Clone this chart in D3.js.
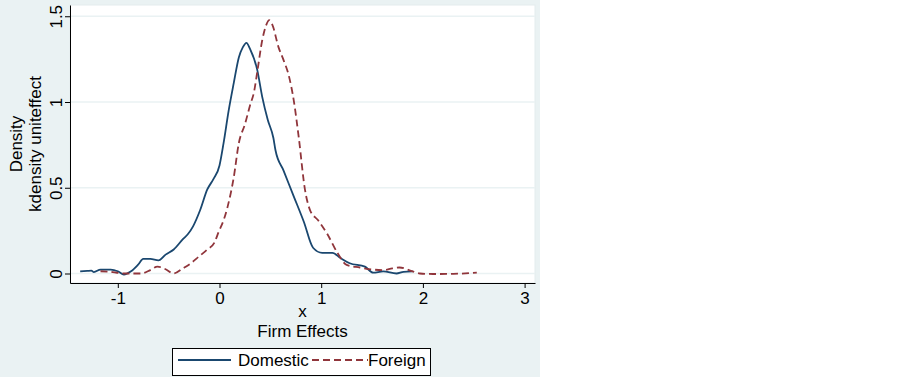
<!DOCTYPE html>
<html>
<head>
<meta charset="utf-8">
<title>kdensity uniteffect</title>
<style>
    body { margin: 0; background: #fff; }
    svg text { font-family: "Liberation Sans", Arial, sans-serif; fill: #000; }
</style>
<script src="https://d3js.org/d3.v7.min.js"></script>
</head>
<body>
<div id="chart"></div>
<script>
    // data
    const domX = [-1.37, -1.3, -1.26, -1.235, -1.17, -1.07, -1.0, -0.94, -0.87, -0.80, -0.75, -0.68, -0.60, -0.53, -0.45, -0.36, -0.31, -0.26, -0.19, -0.12, -0.06, 0.0, 0.04, 0.09, 0.14, 0.19, 0.23, 0.265, 0.30, 0.37, 0.42, 0.475, 0.53, 0.55, 0.63, 0.73, 0.83, 0.92, 1.01, 1.11, 1.19, 1.28, 1.43, 1.51, 1.61, 1.74, 1.81, 1.90]
    const domY = [0.012, 0.015, 0.017, 0.008, 0.023, 0.023, 0.013, -0.006, 0.013, 0.052, 0.085, 0.085, 0.076, 0.11, 0.14, 0.20, 0.23, 0.275, 0.37, 0.49, 0.55, 0.63, 0.76, 0.95, 1.11, 1.26, 1.32, 1.345, 1.31, 1.19, 1.03, 0.895, 0.79, 0.72, 0.60, 0.45, 0.30, 0.15, 0.12, 0.12, 0.09, 0.06, 0.04, 0.005, 0.012, 0.0, 0.01, 0.012]

    const forX = [-1.17, -1.05, -0.94, -0.77, -0.68, -0.61, -0.53, -0.45, -0.36, -0.28, -0.2, -0.12, -0.05, -0.01, 0.04, 0.08, 0.14, 0.19, 0.25, 0.30, 0.34, 0.375, 0.42, 0.46, 0.49, 0.52, 0.58, 0.63, 0.68, 0.73, 0.78, 0.84, 0.89, 0.97, 1.06, 1.16, 1.25, 1.38, 1.51, 1.61, 1.70, 1.77, 1.90, 1.97, 2.1, 2.3, 2.53]
    const forY = [0.013, 0.008, 0.0, 0.0, 0.02, 0.04, 0.025, 0.0, 0.03, 0.06, 0.1, 0.14, 0.18, 0.24, 0.31, 0.39, 0.56, 0.76, 0.87, 0.98, 1.06, 1.19, 1.36, 1.45, 1.477, 1.45, 1.32, 1.244, 1.157, 1.01, 0.79, 0.49, 0.37, 0.31, 0.23, 0.12, 0.05, 0.035, 0.023, 0.02, 0.03, 0.035, 0.012, 0.0, -0.003, -0.002, 0.005]

    const xTicks = [-1, 0, 1, 2, 3]
    const yTicks = [0, 0.5, 1, 1.5]
    const seriesNames = ["Domestic", "Foreign"]

    const W = 902, H = 378
    const plot = { left: 70, right: 535, top: 5, bottom: 283 }

    const svg = d3.select("#chart")
        .append("svg")
        .attr("width", W)
        .attr("height", H)

    // graph region + plot region
    svg.append("rect")
        .attr("x", 0).attr("y", 0)
        .attr("width", 540).attr("height", 377)
        .attr("fill", "#eaf2f3")
    svg.append("rect")
        .attr("x", plot.left).attr("y", plot.top)
        .attr("width", plot.right - plot.left).attr("height", plot.bottom - plot.top)
        .attr("fill", "#fff")
        .attr("stroke", "#e3ecee")
        .attr("stroke-width", 1)

    const x = d3.scaleLinear()
        .domain([(plot.left - 219.5) / 101.7, (plot.right - 219.5) / 101.7])
        .range([plot.left, plot.right])
    const y = d3.scaleLinear()
        .domain([(273.5 - plot.bottom) / 171.5, (273.5 - plot.top) / 171.5])
        .range([plot.bottom, plot.top])

    const fmt = d => String(d)

    // gridlines
    svg.append("g")
        .selectAll("line")
        .data(yTicks)
        .join("line")
        .attr("x1", plot.left).attr("x2", plot.right)
        .attr("y1", d => y(d)).attr("y2", d => y(d))
        .attr("stroke", "#eaf2f3")
        .attr("stroke-width", 1.5)

    // x axis
    const gx = svg.append("g")
        .attr("transform", `translate(0, ${plot.bottom})`)
        .call(d3.axisBottom(x).tickValues(xTicks).tickFormat(fmt).tickSize(5).tickSizeOuter(0).tickPadding(4))
    gx.select(".domain").attr("stroke", "#000")
    gx.selectAll(".tick line").attr("stroke", "#000")
    gx.selectAll(".tick text")
        .attr("font-size", 17)
        .attr("font-family", "Liberation Sans, Arial, sans-serif")
        .attr("fill", "#000")

    // y axis, labels rotated like Stata
    const gy = svg.append("g")
        .attr("transform", `translate(${plot.left}, 0)`)
        .call(d3.axisLeft(y).tickValues(yTicks).tickFormat(fmt).tickSize(5).tickSizeOuter(0))
    gy.select(".domain").attr("stroke", "#000")
    gy.selectAll(".tick line").attr("stroke", "#000")
    gy.selectAll(".tick text")
        .attr("font-size", 17)
        .attr("font-family", "Liberation Sans, Arial, sans-serif")
        .attr("fill", "#000")
        .attr("x", null).attr("dy", null)
        .attr("text-anchor", "middle")
        .attr("transform", "translate(-8.5, 0) rotate(-90)")

    // axis titles
    svg.append("text")
        .attr("x", (plot.left + plot.right) / 2)
        .attr("y", 317)
        .attr("text-anchor", "middle")
        .attr("font-size", 17)
        .text("x")
    svg.append("text")
        .attr("x", (plot.left + plot.right) / 2)
        .attr("y", 337)
        .attr("text-anchor", "middle")
        .attr("font-size", 17)
        .text("Firm Effects")

    const midY = (plot.top + plot.bottom) / 2
    svg.append("text")
        .attr("transform", `translate(21.5, ${midY}) rotate(-90)`)
        .attr("text-anchor", "middle")
        .attr("font-size", 17)
        .text("Density")
    svg.append("text")
        .attr("transform", `translate(40.5, ${midY}) rotate(-90)`)
        .attr("text-anchor", "middle")
        .attr("font-size", 17)
        .text("kdensity uniteffect")

    // lines
    const line = d3.line()
        .x(d => x(d[0]))
        .y(d => y(d[1]))
        .curve(d3.curveMonotoneX)

    svg.append("path")
        .datum(domX.map((v, i) => [v, domY[i]]))
        .attr("fill", "none")
        .attr("stroke", "#1a476f")
        .attr("stroke-width", 1.8)
        .attr("stroke-linejoin", "round")
        .attr("d", line)

    svg.append("path")
        .datum(forX.map((v, i) => [v, forY[i]]))
        .attr("fill", "none")
        .attr("stroke", "#90353b")
        .attr("stroke-width", 1.8)
        .attr("stroke-dasharray", "7,4")
        .attr("d", line)

    // legend
    const legend = svg.append("g")
    legend.append("rect")
        .attr("x", 172.5).attr("y", 348.5)
        .attr("width", 258).attr("height", 27)
        .attr("fill", "#fff")
        .attr("stroke", "#000")
        .attr("stroke-width", 1)

    legend.append("line")
        .attr("x1", 178).attr("x2", 231)
        .attr("y1", 360).attr("y2", 360)
        .attr("stroke", "#1a476f")
        .attr("stroke-width", 1.8)
    legend.append("text")
        .attr("x", 238).attr("y", 366)
        .attr("font-size", 17)
        .text(seriesNames[0])

    legend.append("line")
        .attr("x1", 312).attr("x2", 368)
        .attr("y1", 360).attr("y2", 360)
        .attr("stroke", "#90353b")
        .attr("stroke-width", 1.8)
        .attr("stroke-dasharray", "7,4")
    legend.append("text")
        .attr("x", 368).attr("y", 366)
        .attr("font-size", 17)
        .text(seriesNames[1])
</script>
</body>
</html>
